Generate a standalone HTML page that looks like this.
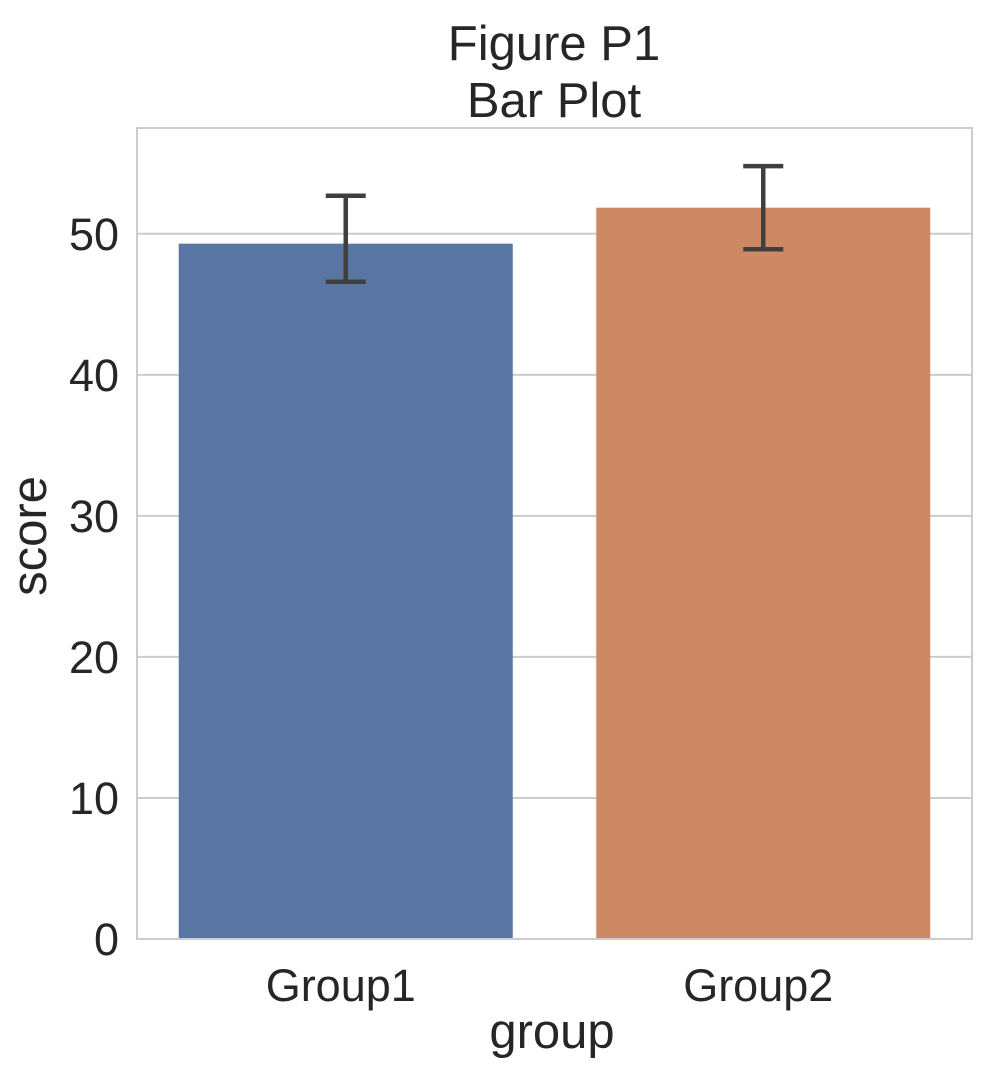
<!DOCTYPE html>
<html><head><meta charset="utf-8"><style>
html,body{margin:0;padding:0;background:#fff;}
svg{display:block;font-family:"Liberation Sans",Arial,sans-serif;}
</style></head><body>
<svg id="chart" width="1000" height="1075" viewBox="0 0 1000 1075" xmlns="http://www.w3.org/2000/svg">
<text x="554" y="60" font-size="49" fill="#262626" text-anchor="middle">Figure P1</text>
<text x="554" y="117" font-size="49" fill="#262626" text-anchor="middle">Bar Plot</text>
<g id="grid"></g>
<g id="bars"></g>
<g id="yticks"></g>
<g id="xticks"></g>
<rect x="137" y="128" width="835" height="811" fill="none" stroke="#cccccc" stroke-width="2"/>
<text transform="translate(46,536) rotate(-90)" font-size="49" fill="#262626" text-anchor="middle">score</text>
<text x="552" y="1048" font-size="49" fill="#262626" text-anchor="middle">group</text>
</svg>
<script>
const categories = ["Group1","Group2"];
const values = [49.3, 51.85];
const errLow = [46.6, 48.9];
const errHigh = [52.7, 54.8];
const yTicks = [0,10,20,30,40,50];
const colors = ["#5975a4","#cc8963"];
const L=137,R=972,T=128,B=939,yMax=57.5;
const ns="http://www.w3.org/2000/svg";
function y(v){return B-(v/yMax)*(B-T);}
const band=(R-L)/categories.length;
function xc(i){return L+band*(i+0.5);}
function mk(tag,attrs,parent){const e=document.createElementNS(ns,tag);for(const k in attrs)e.setAttribute(k,attrs[k]);document.getElementById(parent).appendChild(e);return e;}
yTicks.forEach(t=>{
  const g=mk('line',{x1:L,x2:R,y1:y(t),y2:y(t),stroke:'#cccccc','stroke-width':2},'grid');
  
  
  const tx=mk('text',{x:L-18,y:y(t)+16,'font-size':45,fill:'#262626','text-anchor':'end'},'yticks');
  tx.textContent=t;
  
  
});
categories.forEach((c,i)=>{
  const w=band*0.8;
  const r=mk('rect',{x:xc(i)-w/2,y:y(values[i]),width:w,height:y(0)-y(values[i]),fill:colors[i]},'bars');
  
  
  const e=mk('path',{d:`M${xc(i)} ${y(errLow[i])}V${y(errHigh[i])}M${xc(i)-20} ${y(errLow[i])}H${xc(i)+20}M${xc(i)-20} ${y(errHigh[i])}H${xc(i)+20}`,stroke:'#3f3f3f','stroke-width':4.5,fill:'none'},'bars');
  
  
  const tx=mk('text',{x:xc(i)-5,y:B+62,'font-size':45,fill:'#262626','text-anchor':'middle'},'xticks');
  tx.textContent=c;
  
  
});
</script>
</body></html>
